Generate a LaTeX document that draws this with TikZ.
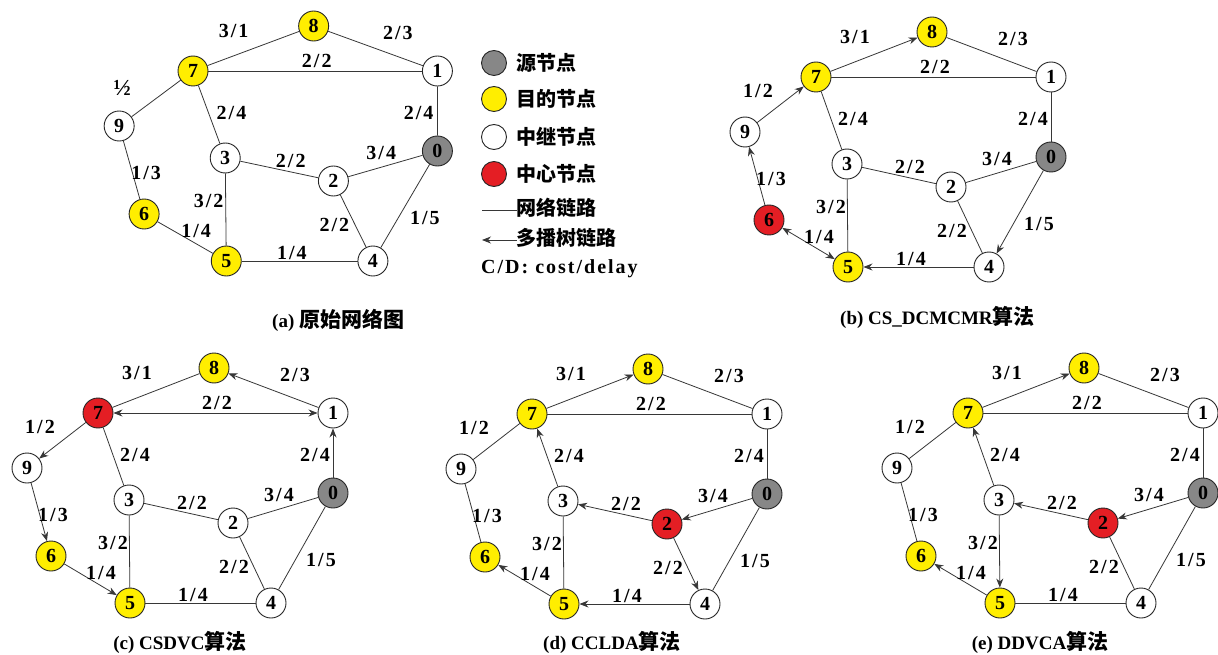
\documentclass[tikz,border=0pt]{standalone}
\usepackage{fontspec}
\setmainfont{Liberation Serif}
\newfontfamily\cjk{Noto Sans CJK SC}
\newfontfamily\labfont{Liberation Serif}[LetterSpace=10]
\usetikzlibrary{arrows.meta}
\definecolor{srcgray}{RGB}{135,135,135}
\definecolor{dstyellow}{RGB}{255,238,0}
\definecolor{ctrred}{RGB}{228,30,36}
\definecolor{edgecol}{RGB}{55,55,55}
\newcommand\zh[1]{{\cjk\bfseries\fontsize{21}{21}\selectfont #1}}
\tikzset{
 nd/.style={circle,draw=black!85,line width=0.9pt,minimum size=30pt,inner sep=0pt,fill=white,font=\bfseries\fontsize{20}{20}\selectfont},
 src/.style={fill=srcgray}, dst/.style={fill=dstyellow}, ctr/.style={fill=ctrred},
 c0/.style={src}, c1/.style={}, c2/.style={}, c3/.style={}, c4/.style={}, c9/.style={},
 c5/.style={dst}, c6/.style={dst}, c7/.style={dst}, c8/.style={dst},
 ln/.style={draw=edgecol,line width=0.8pt},
 fwd/.style={-{Stealth[length=9pt,width=7pt]}},
 bwd/.style={{Stealth[length=9pt,width=7pt]}-},
 both/.style={{Stealth[length=9pt,width=7pt]}-{Stealth[length=9pt,width=7pt]}},
 e78/.style={}, e81/.style={}, e71/.style={}, e79/.style={}, e96/.style={},
 e73/.style={}, e10/.style={}, e32/.style={}, e20/.style={}, e35/.style={},
 e65/.style={}, e54/.style={}, e24/.style={}, e04/.style={},
 lab/.style={font=\labfont\bfseries\fontsize{20}{20}\selectfont, inner sep=1pt},
 legc/.style={circle,draw=black!85,line width=0.9pt,minimum size=25pt,inner sep=0pt,fill=white},
 legt/.style={anchor=west,inner sep=0pt,font=\cjk\bfseries\fontsize{20}{20}\selectfont},
 captext/.style={inner sep=0pt,font=\bfseries\fontsize{19}{19}\selectfont},
}
\newcommand\drawgraph[3]{%
  \node[nd,c7] (#1-7) at (0,0) {7};
  \node[nd,c8] (#1-8) at (116,-45) {8};
  \node[nd,c1] (#1-1) at (235,0) {1};
  \node[nd,c9] (#1-9) at (-71,55) {9};
  \node[nd,c0] (#1-0) at (235,80) {0};
  \node[nd,c3] (#1-3) at (31,87) {3};
  \node[nd,c2] (#1-2) at (135,110) {2};
  \node[nd,c6] (#1-6) at (-47,143) {6};
  \node[nd,c5] (#1-5) at (32,190) {5};
  \node[nd,c4] (#1-4) at (173,190) {4};
  \draw[ln,e78] (#1-7) -- (#1-8);
  \draw[ln,e81] (#1-8) -- (#1-1);
  \draw[ln,e71] (#1-7) -- (#1-1);
  \draw[ln,e79] (#1-7) -- (#1-9);
  \draw[ln,e96] (#1-9) -- (#1-6);
  \draw[ln,e73] (#1-7) -- (#1-3);
  \draw[ln,e10] (#1-1) -- (#1-0);
  \draw[ln,e32] (#1-3) -- (#1-2);
  \draw[ln,e20] (#1-2) -- (#1-0);
  \draw[ln,e35] (#1-3) -- (#1-5);
  \draw[ln,e65] (#1-6) -- (#1-5);
  \draw[ln,e54] (#1-5) -- (#1-4);
  \draw[ln,e24] (#1-2) -- (#1-4);
  \draw[ln,e04] (#1-0) -- (#1-4);
  \node[lab] (#1-t78) at (39,-40) {3/1};
  \node[lab] (#1-t81) at (197,-38) {2/3};
  \node[lab] (#1-t71) at (119,-10) {2/2};
  \node[lab] (#1-t79) at #3 {#2};
  \node[lab] (#1-t96) at (-45,102) {1/3};
  \node[lab] (#1-t73) at (37,42) {2/4};
  \node[lab] (#1-t10) at (217,42) {2/4};
  \node[lab] (#1-t32) at (94,90) {2/2};
  \node[lab] (#1-t20) at (181,82) {3/4};
  \node[lab] (#1-t35) at (15,130) {3/2};
  \node[lab] (#1-t65) at (3,160) {1/4};
  \node[lab] (#1-t54) at (95,182) {1/4};
  \node[lab] (#1-t24) at (136,154) {2/2};
  \node[lab] (#1-t04) at (223,147) {1/5};
}
\begin{document}
\begin{tikzpicture}[x=1pt,y=-1pt]
\fill[white] (0,0) rectangle (1218,655);
\useasboundingbox (0,0) rectangle (1218,655);
% (a)
\begin{scope}[shift={(193,71)},xscale=1.04]
  \drawgraph{a}{\fontsize{23}{23}\selectfont ½}{(-68,17)}
\end{scope}
% (b)
\begin{scope}[shift={(816,77)}, c6/.style={ctr}, e78/.style={fwd}, e79/.style={bwd},
  e96/.style={bwd}, e65/.style={both}, e04/.style={fwd}, e54/.style={bwd}]
  \drawgraph{b}{1/2}{(-58,14)}
\end{scope}
% (c)
\begin{scope}[shift={(98,413)}, c7/.style={ctr}, e81/.style={bwd}, e71/.style={both},
  e10/.style={bwd}, e79/.style={fwd}, e96/.style={fwd}, e65/.style={fwd}]
  \drawgraph{c}{1/2}{(-58,14)}
\end{scope}
% (d)
\begin{scope}[shift={(532,414)}, c2/.style={ctr}, e78/.style={fwd}, e73/.style={bwd},
  e20/.style={bwd}, e32/.style={bwd}, e24/.style={fwd}, e54/.style={bwd}, e65/.style={bwd}]
  \drawgraph{d}{1/2}{(-58,14)}
\end{scope}
% (e)
\begin{scope}[shift={(968,413)}, c2/.style={ctr}, e78/.style={fwd}, e73/.style={bwd},
  e20/.style={bwd}, e32/.style={bwd}, e35/.style={fwd}, e65/.style={bwd}]
  \drawgraph{e}{1/2}{(-58,14)}
\end{scope}
% legend
\node[legc,fill=srcgray] (lg1) at (494,63) {};
\node[legt] (lt1) at (516,63) {源节点};
\node[legc,fill=dstyellow] (lg2) at (494,99) {};
\node[legt] (lt2) at (516,99) {目的节点};
\node[legc] (lg3) at (494,137) {};
\node[legt] (lt3) at (516,137) {中继节点};
\node[legc,fill=ctrred] (lg4) at (494,174) {};
\node[legt] (lt4) at (516,174) {中心节点};
\coordinate (ll1) at (482,210);
\coordinate (ll1e) at (517,210);
\draw[ln] (ll1) -- (ll1e);
\node[legt] (lt5) at (516,208) {网络链路};
\coordinate (ll2) at (482,240);
\coordinate (ll2e) at (517,240);
\draw[ln,bwd] (ll2) -- (ll2e);
\node[legt] (lt6) at (516,238) {多播树链路};
\node[lab,anchor=west,font=\labfont\bfseries\fontsize{20}{20}\selectfont] (lt7) at (480,269) {C/D: cost/delay};
% captions
\node[captext,anchor=west] (capa) at (272,320) {(a) \zh{原始网络图}};
\node[captext,anchor=west] (capb) at (840,317) {(b) CS\_DCMCMR\zh{算法}};
\node[captext] (capc) at (180,642) {(c) CSDVC\zh{算法}};
\node[captext] (capd) at (612,642) {(d) CCLDA\zh{算法}};
\node[captext] (cape) at (1040,642) {(e) DDVCA\zh{算法}};
\end{tikzpicture}
\end{document}
